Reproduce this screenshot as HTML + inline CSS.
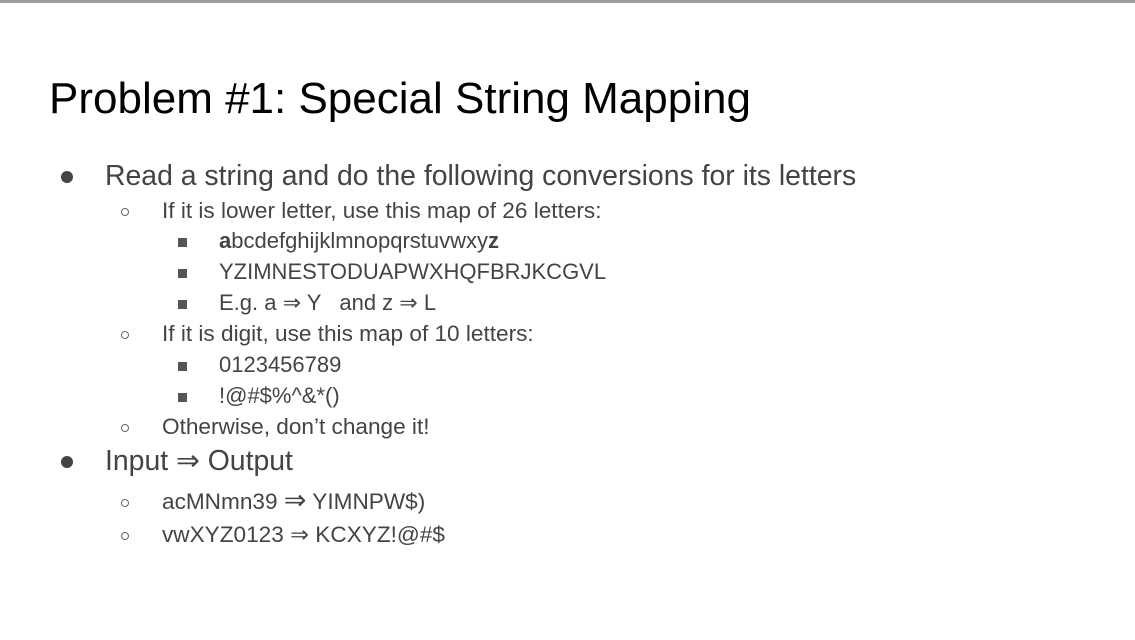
<!DOCTYPE html>
<html><head><meta charset="utf-8"><style>
body{margin:0;width:1135px;height:640px;background:#fff;position:relative;overflow:hidden;font-family:"Liberation Sans",sans-serif;}
.bar{position:absolute;left:0;top:0;width:1135px;height:3px;background:#9e9e9e;}
.t{position:absolute;white-space:nowrap;line-height:30px;height:30px;color:#444;}
.l1{font-size:28.4px;left:105px;}
.l2{font-size:22.6px;left:162px;}
.l3{font-size:22px;left:219px;}
.b{position:absolute;}
.dot{width:12px;height:12px;border-radius:50%;background:#444;left:61px;}
.circ{width:8px;height:8px;border-radius:50%;border:1px solid #666;left:121px;box-sizing:border-box;}
.sq{width:9px;height:9px;background:#555;left:178px;}
</style></head><body>
<div class="bar"></div>
<div class="t" style="left:49px;top:76px;font-size:44px;line-height:46px;height:46px;color:#000">Problem #1: Special String Mapping</div>

<div class="b dot" style="top:171px"></div><div class="t l1" style="top:161px">Read a string and do the following conversions for its letters</div>
<div class="b circ" style="top:208px"></div><div class="t l2" style="top:196px">If it is lower letter, use this map of 26 letters:</div>
<div class="b sq" style="top:238px"></div><div class="t l3" style="top:226px"><b>a</b>bcdefghijklmnopqrstuvwxy<b>z</b></div>
<div class="b sq" style="top:269px"></div><div class="t l3" style="top:257px">YZIMNESTODUAPWXHQFBRJKCGVL</div>
<div class="b sq" style="top:300px"></div><div class="t l3" style="top:288px">E.g. a ⇒ Y &nbsp; and z ⇒ L</div>
<div class="b circ" style="top:331px"></div><div class="t l2" style="top:319px">If it is digit, use this map of 10 letters:</div>
<div class="b sq" style="top:362px"></div><div class="t l3" style="top:350px">0123456789</div>
<div class="b sq" style="top:393px"></div><div class="t l3" style="top:381px">!@#$%^&amp;*()</div>
<div class="b circ" style="top:424px"></div><div class="t l2" style="top:412px">Otherwise, don’t change it!</div>
<div class="b dot" style="top:456px"></div><div class="t l1" style="top:446px">Input ⇒ Output</div>
<div class="b circ" style="top:499px"></div><div class="t l2" style="top:487px">acMNmn39 <span style="font-size:27px;line-height:0">⇒</span> YIMNPW$)</div>
<div class="b circ" style="top:532px"></div><div class="t l2" style="top:520px">vwXYZ0123 ⇒ KCXYZ!@#$</div>
</body></html>
